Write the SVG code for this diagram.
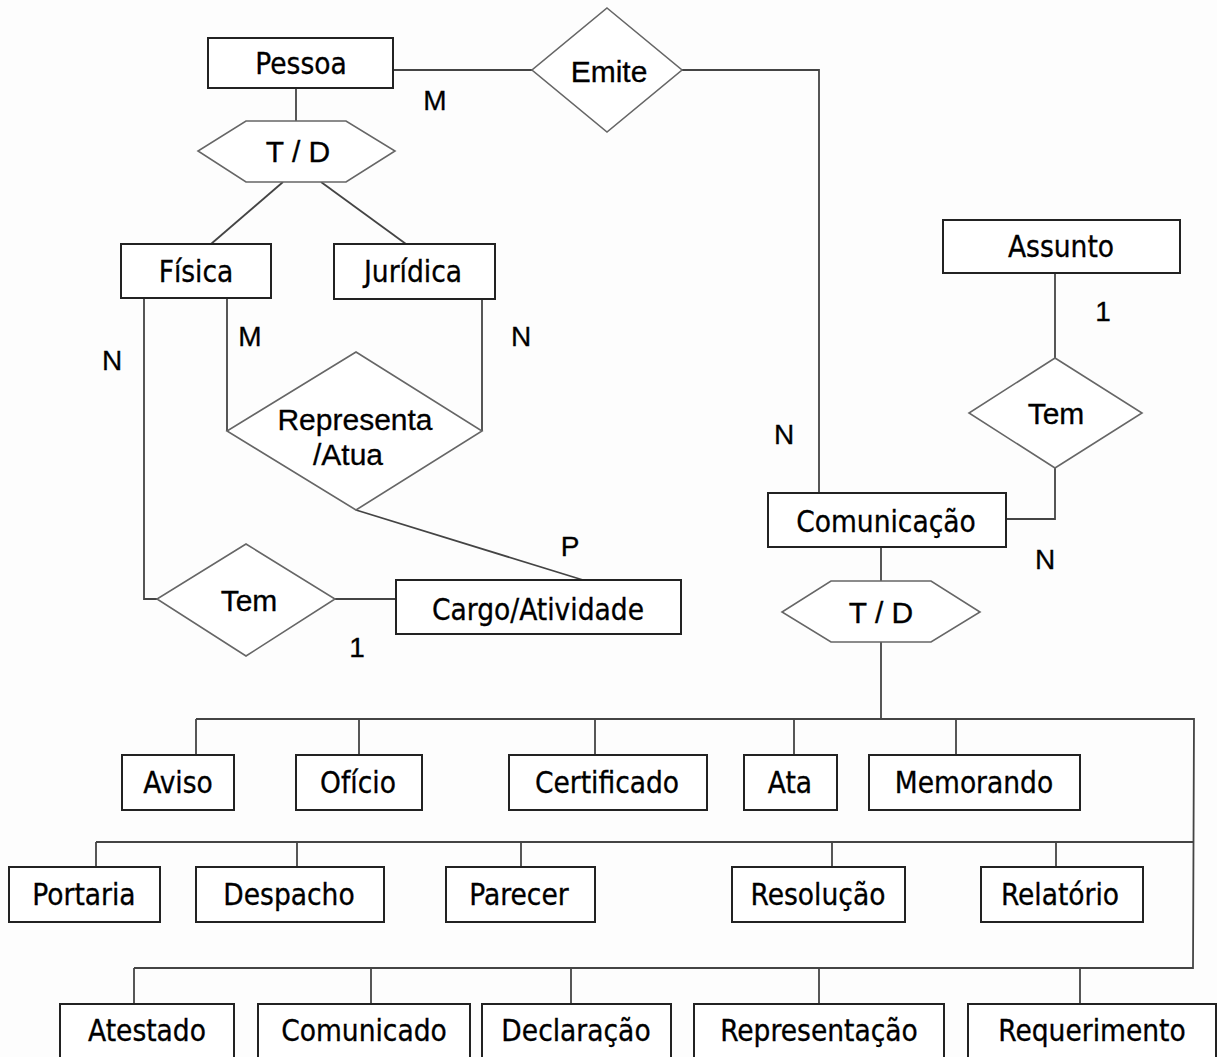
<svg xmlns="http://www.w3.org/2000/svg" width="1217" height="1057" viewBox="0 0 1217 1057">
<style>
.ent{fill:#fff;stroke:#222;stroke-width:2}
.rel{fill:#fff;stroke:#666;stroke-width:1.6}
.et{font-family:'DejaVu Sans Condensed','DejaVu Sans',sans-serif;font-stretch:condensed;font-size:29.5px;fill:#000;stroke:#000;stroke-width:0.3;text-anchor:middle}
.rt{font-family:'Liberation Sans',Arial,sans-serif;font-size:30px;fill:#000;stroke:#000;stroke-width:0.3;text-anchor:middle}
.card{font-family:'Liberation Sans',Arial,sans-serif;font-size:28px;fill:#000;stroke:#000;stroke-width:0.3;text-anchor:middle}
.c{fill:none;stroke:#444;stroke-width:1.8}
</style>
<rect width="1217" height="1057" fill="#fdfdfd"/>
<g id="connectors">
<polyline class="c" points="393,70 532,70"/>
<polyline class="c" points="682,70 819,70 819,493"/>
<polyline class="c" points="296,88 296,121"/>
<polyline class="c" points="283,182 211,244"/>
<polyline class="c" points="321,182 406,244"/>
<polyline class="c" points="144,298 144,599 157,599"/>
<polyline class="c" points="227,298 227,431"/>
<polyline class="c" points="482,299 482,431"/>
<polyline class="c" points="356,510 583,580"/>
<polyline class="c" points="335,599 396,599"/>
<polyline class="c" points="1055,274 1055,358"/>
<polyline class="c" points="1055,468 1055,519 1006,519"/>
<polyline class="c" points="881,547 881,581"/>
<polyline class="c" points="881,642 881,719"/>
<polyline class="c" points="196,719 1194,719 1193,968 134,968"/>
<polyline class="c" points="1193,842 96,842"/>
<polyline class="c" points="196,719 196,755"/>
<polyline class="c" points="359,719 359,755"/>
<polyline class="c" points="595,719 595,755"/>
<polyline class="c" points="794,719 794,755"/>
<polyline class="c" points="956,719 956,755"/>
<polyline class="c" points="96,842 96,867"/>
<polyline class="c" points="297,842 297,867"/>
<polyline class="c" points="521,842 521,867"/>
<polyline class="c" points="832,842 832,867"/>
<polyline class="c" points="1056,842 1056,867"/>
<polyline class="c" points="134,968 134,1004"/>
<polyline class="c" points="371,968 371,1004"/>
<polyline class="c" points="571,968 571,1004"/>
<polyline class="c" points="819,968 819,1004"/>
<polyline class="c" points="1080,968 1080,1004"/>
</g>
<g id="labels">
<text class="card" x="435" y="110">M</text>
<text class="card" x="112" y="370">N</text>
<text class="card" x="250" y="346">M</text>
<text class="card" x="521" y="346">N</text>
<text class="card" x="570" y="556">P</text>
<text class="card" x="357" y="657">1</text>
<text class="card" x="784" y="444">N</text>
<text class="card" x="1103" y="321">1</text>
<text class="card" x="1045" y="569">N</text>
</g>
<g id="pessoa"><rect class="ent" x="208" y="38" width="185" height="50"/><text class="et" x="301" y="74">Pessoa</text></g>
<g id="emite"><polygon class="rel" points="607,8 682,70 607,132 532,70"/><text class="rt" x="609" y="82">Emite</text></g>
<g id="td1"><polygon class="rel" points="246,121 346,121 395,151 346,182 246,182 198,151"/><text class="rt" x="298" y="162">T / D</text></g>
<g id="fisica"><rect class="ent" x="121" y="244" width="150" height="54"/><text class="et" x="196" y="282">Física</text></g>
<g id="juridica"><rect class="ent" x="334" y="244" width="161" height="55"/><text class="et" x="413" y="282">Jurídica</text></g>
<g id="representa"><polygon class="rel" points="356,352 482,431 356,510 227,431"/><text class="rt" x="355" y="430">Representa</text><text class="rt" x="348" y="465">/Atua</text></g>
<g id="tem1"><polygon class="rel" points="246,544 335,599 246,656 157,599"/><text class="rt" x="249" y="611">Tem</text></g>
<g id="cargo"><rect class="ent" x="396" y="580" width="285" height="54"/><text class="et" x="538" y="620">Cargo/Atividade</text></g>
<g id="assunto"><rect class="ent" x="943" y="220" width="237" height="53"/><text class="et" x="1061" y="257">Assunto</text></g>
<g id="tem2"><polygon class="rel" points="1055,358 1142,413 1055,468 969,413"/><text class="rt" x="1056" y="424">Tem</text></g>
<g id="comunicacao"><rect class="ent" x="768" y="493" width="238" height="54"/><text class="et" x="886" y="532">Comunicação</text></g>
<g id="td2"><polygon class="rel" points="831,581 931,581 980,612 931,642 831,642 782,612"/><text class="rt" x="881" y="623">T / D</text></g>
<g id="aviso"><rect class="ent" x="122" y="755" width="112" height="55"/><text class="et" x="178" y="793">Aviso</text></g>
<g id="oficio"><rect class="ent" x="296" y="755" width="126" height="55"/><text class="et" x="358" y="793">Ofício</text></g>
<g id="certificado"><rect class="ent" x="509" y="755" width="198" height="55"/><text class="et" x="607" y="793">Certificado</text></g>
<g id="ata"><rect class="ent" x="744" y="755" width="93" height="55"/><text class="et" x="790" y="793">Ata</text></g>
<g id="memorando"><rect class="ent" x="869" y="755" width="211" height="55"/><text class="et" x="974" y="793">Memorando</text></g>
<g id="portaria"><rect class="ent" x="9" y="867" width="151" height="55"/><text class="et" x="84" y="905">Portaria</text></g>
<g id="despacho"><rect class="ent" x="196" y="867" width="188" height="55"/><text class="et" x="289" y="905">Despacho</text></g>
<g id="parecer"><rect class="ent" x="446" y="867" width="149" height="55"/><text class="et" x="519" y="905">Parecer</text></g>
<g id="resolucao"><rect class="ent" x="732" y="867" width="173" height="55"/><text class="et" x="818" y="905">Resolução</text></g>
<g id="relatorio"><rect class="ent" x="981" y="867" width="162" height="55"/><text class="et" x="1060" y="905">Relatório</text></g>
<g id="atestado"><rect class="ent" x="60" y="1004" width="174" height="60"/><text class="et" x="147" y="1041">Atestado</text></g>
<g id="comunicado"><rect class="ent" x="258" y="1004" width="212" height="60"/><text class="et" x="364" y="1041">Comunicado</text></g>
<g id="declaracao"><rect class="ent" x="482" y="1004" width="189" height="60"/><text class="et" x="576" y="1041">Declaração</text></g>
<g id="representacao"><rect class="ent" x="694" y="1004" width="250" height="60"/><text class="et" x="819" y="1041">Representação</text></g>
<g id="requerimento"><rect class="ent" x="968" y="1004" width="248" height="60"/><text class="et" x="1092" y="1041">Requerimento</text></g>
</svg>
